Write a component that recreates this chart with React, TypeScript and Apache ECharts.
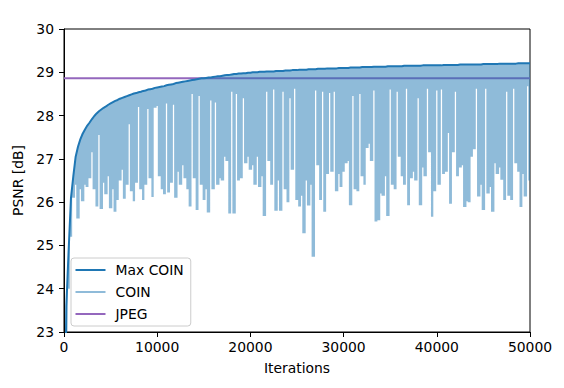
import React, { useEffect, useRef } from "react";
import * as echarts from "echarts";

// Iterations grid (one sample every 250 iterations, 0 .. 50000)
const STEP = 250;
const iterations: number[] = Array.from({ length: 201 }, (_, i) => i * STEP);

// Max COIN (running max of COIN PSNR) at each grid iteration
const maxCoin: number[] = [
  19.0, 23.6, 24.9, 26.1, 26.6, 27.05, 27.28, 27.45, 27.58, 27.68,
  27.77, 27.84, 27.92, 27.99, 28.05, 28.1, 28.14, 28.18, 28.21, 28.25,
  28.28, 28.31, 28.34, 28.36, 28.39, 28.41, 28.43, 28.45, 28.47, 28.49,
  28.51, 28.52, 28.54, 28.55, 28.57, 28.58, 28.6, 28.61, 28.62, 28.64,
  28.65, 28.66, 28.67, 28.68, 28.7, 28.71, 28.72, 28.73, 28.75, 28.76,
  28.77, 28.78, 28.79, 28.8, 28.81, 28.82, 28.83, 28.84, 28.85, 28.86,
  28.86, 28.87, 28.88, 28.88, 28.89, 28.9, 28.91, 28.91, 28.92, 28.93,
  28.94, 28.94, 28.95, 28.96, 28.96, 28.97, 28.97, 28.98, 28.98, 28.99,
  28.99, 29.0, 29.0, 29.0, 29.01, 29.01, 29.01, 29.02, 29.02, 29.02,
  29.02, 29.03, 29.03, 29.03, 29.03, 29.04, 29.04, 29.04, 29.05, 29.05,
  29.05, 29.06, 29.06, 29.06, 29.06, 29.07, 29.07, 29.07, 29.07, 29.08,
  29.08, 29.08, 29.08, 29.09, 29.09, 29.09, 29.09, 29.09, 29.1, 29.1,
  29.1, 29.1, 29.1, 29.11, 29.11, 29.11, 29.11, 29.11, 29.12, 29.12,
  29.12, 29.12, 29.12, 29.13, 29.13, 29.13, 29.13, 29.13, 29.13, 29.14,
  29.14, 29.14, 29.14, 29.14, 29.14, 29.14, 29.15, 29.15, 29.15, 29.15,
  29.15, 29.15, 29.15, 29.15, 29.16, 29.16, 29.16, 29.16, 29.16, 29.16,
  29.16, 29.16, 29.16, 29.17, 29.17, 29.17, 29.17, 29.17, 29.17, 29.17,
  29.18, 29.18, 29.18, 29.18, 29.18, 29.18, 29.18, 29.18, 29.18, 29.18,
  29.19, 29.19, 29.19, 29.19, 29.19, 29.19, 29.19, 29.2, 29.2, 29.2,
  29.2, 29.2, 29.2, 29.2, 29.2, 29.21, 29.21, 29.21, 29.21, 29.21,
  29.21,
];

// COIN: upper envelope follows the running max above; lower envelope
const coinHigh: number[] = maxCoin;
const coinLow: number[] = [
  19.0, 23.0, 24.0, 25.2, 26.1, 26.4, 25.62, 26.3, 26.02, 26.4,
  26.35, 26.55, 27.15, 26.3, 25.9, 27.55, 25.84, 26.45, 26.18, 26.6,
  25.86, 26.3, 25.78, 26.05, 26.5, 26.75, 26.08, 26.4, 27.8, 26.25,
  26.02, 26.45, 28.2, 26.3, 26.05, 26.4, 28.15, 26.55, 26.12, 28.18,
  28.22, 26.6, 26.3, 26.18, 28.28, 26.22, 26.45, 28.25, 26.1, 26.7,
  26.4, 26.85, 26.55, 26.3, 25.9, 28.5, 26.55, 25.82, 28.45, 26.4,
  26.05, 26.3, 25.76, 28.35, 26.3, 28.3, 26.4, 26.55, 26.5, 27.05,
  26.95, 25.74, 28.55, 25.74, 28.5, 26.5, 26.55, 28.4, 26.9, 27.05,
  26.75, 26.85, 26.4, 27.05, 26.35, 26.6, 25.68, 28.55, 26.95, 26.4,
  28.6, 25.8, 26.5, 25.8, 28.55, 26.3, 26.0, 28.4, 26.75, 28.62,
  26.05, 25.9, 26.15, 25.28, 26.5, 25.92, 26.4, 24.74, 28.58, 26.85,
  26.05, 28.55, 25.78, 26.65, 28.52, 26.7, 28.55, 26.25, 26.65, 26.35,
  26.7, 26.9, 26.95, 25.93, 28.45, 26.3, 26.25, 28.5, 26.6, 26.4,
  27.25, 27.35, 26.95, 28.58, 25.55, 25.58, 26.2, 26.15, 26.6, 25.68,
  28.6, 26.4, 26.3, 28.55, 27.05, 26.6, 26.4, 28.62, 25.93, 26.55,
  26.7, 26.5, 28.4, 25.93, 26.8, 26.6, 28.62, 27.15, 25.66, 26.25,
  28.58, 26.4, 28.6, 26.65, 26.7, 27.6, 25.96, 27.15, 28.55, 26.6,
  26.8, 26.85, 25.89, 26.02, 26.0, 27.05, 27.22, 28.62, 26.13, 26.4,
  25.82, 28.62, 26.2, 26.35, 25.78, 26.9, 26.65, 26.8, 26.52, 26.05,
  28.55, 26.15, 26.05, 28.62, 26.9, 26.7, 25.89, 26.65, 26.13, 28.68,
  26.5,
];

// JPEG baseline
const jpegIterations: number[] = [0, 50000];
const jpegPsnr: number[] = [28.86, 28.86];

const xTicks = { min: 0, max: 50000, interval: 10000 };
const yTicks = { min: 23, max: 30, interval: 1 };

const FONT = "DejaVu Sans";
const FS = 13.9;

export default function App() {
  const ref = useRef<HTMLDivElement>(null);

  useEffect(() => {
    document.body.style.margin = "0";
    if (!ref.current) return;
    const chart = echarts.init(ref.current, undefined, { renderer: "svg" });

    const maxData = iterations.map((it, i) => [it, maxCoin[i]]);
    const coinData = iterations.map((it, i) => [it, coinLow[i], coinHigh[i]]);
    const jpegData = jpegIterations.map((it, i) => [it, jpegPsnr[i]]);

    const axisCommon = {
      axisLine: { show: true, onZero: false, lineStyle: { color: "#000", width: 1 } },
      axisTick: { show: true, length: 5, lineStyle: { color: "#000", width: 1 } },
      splitLine: { show: false },
      nameTextStyle: { fontFamily: FONT, fontSize: FS, color: "#000" },
    };

    // COIN envelope: one polygon, upper edge through the running-max samples,
    // lower edge stepping through each sample's minimum. Samples that stay high
    // (local maxima of the minimum) get a narrower step so that the white gaps
    // look as thin as in the original plot.
    const n = coinData.length;
    const left: number[] = [];
    const right: number[] = [];
    for (let i = 0; i < n; i++) {
      left.push(coinData[i][0] - STEP / 2);
      right.push(coinData[i][0] + STEP / 2);
    }
    for (let i = 1; i < n - 1; i++) {
      const lo = coinData[i][1];
      if (lo > coinData[i - 1][1] && lo > coinData[i + 1][1]) {
        left[i] = coinData[i][0] - STEP * 0.27;
        right[i] = coinData[i][0] + STEP * 0.27;
        right[i - 1] = left[i];
        left[i + 1] = right[i];
      }
    }

    const renderCoin = (params: any, api: any) => {
      if (params.dataIndexInside !== 0) return null;
      const pts: number[][] = [];
      for (let i = 0; i < n; i++) {
        pts.push(api.coord([coinData[i][0], coinData[i][2]]));
      }
      for (let i = n - 1; i >= 0; i--) {
        pts.push(api.coord([right[i], coinData[i][1]]));
        pts.push(api.coord([left[i], coinData[i][1]]));
      }
      return {
        type: "polygon",
        shape: { points: pts },
        style: { fill: "#1f77b4", opacity: 0.5 },
        silent: true,
      };
    };

    chart.setOption({
      animation: false,
      backgroundColor: "#ffffff",
      textStyle: { fontFamily: FONT },
      grid: {
        left: 64,
        right: 34,
        top: 29,
        bottom: 56,
        show: true,
        borderColor: "#000",
        borderWidth: 1,
        backgroundColor: "transparent",
      },
      legend: {
        orient: "vertical",
        left: 71,
        top: 258,
        data: [
          { name: "Max COIN", icon: "rect" },
          { name: "COIN", icon: "rect" },
          { name: "JPEG", icon: "rect" },
        ],
        itemWidth: 30,
        itemHeight: 2,
        itemGap: 6,
        padding: [4, 7, 4, 4.5],
        backgroundColor: "rgba(255,255,255,0.8)",
        borderColor: "#cccccc",
        borderWidth: 1,
        borderRadius: 3,
        selectedMode: false,
        textStyle: { fontFamily: FONT, fontSize: FS, color: "#000", lineHeight: 16, padding: [0, 0, 0, 5] },
      },
      xAxis: {
        type: "value",
        ...xTicks,
        name: "Iterations",
        nameLocation: "middle",
        nameGap: 29,
        ...axisCommon,
        axisLabel: {
          fontFamily: FONT,
          fontSize: FS,
          color: "#000",
          margin: 8,
          formatter: (v: number) => String(v),
        },
      },
      yAxis: {
        type: "value",
        ...yTicks,
        name: "PSNR [dB]",
        nameLocation: "middle",
        nameRotate: 90,
        nameGap: 29,
        ...axisCommon,
        axisLabel: { fontFamily: FONT, fontSize: FS, color: "#000", margin: 10 },
      },
      series: [
        {
          name: "JPEG",
          type: "line",
          z: 1,
          data: jpegData,
          color: "#9467bd",
          symbol: "none",
          lineStyle: { color: "#9467bd", width: 2 },
          silent: true,
        },
        {
          name: "COIN",
          type: "custom",
          z: 2,
          clip: true,
          data: coinData,
          encode: { x: 0, y: [1, 2] },
          itemStyle: { color: "#8fbbd9" },
          renderItem: renderCoin,
          silent: true,
        },
        {
          name: "Max COIN",
          type: "line",
          z: 3,
          data: maxData,
          color: "#1f77b4",
          symbol: "none",
          lineStyle: { color: "#1f77b4", width: 2 },
          silent: true,
        },
      ],
    });

    return () => chart.dispose();
  }, []);

  return (
    <div
      ref={ref}
      style={{ position: "fixed", left: 0, top: 0, width: 564, height: 388, background: "#fff" }}
    />
  );
}
